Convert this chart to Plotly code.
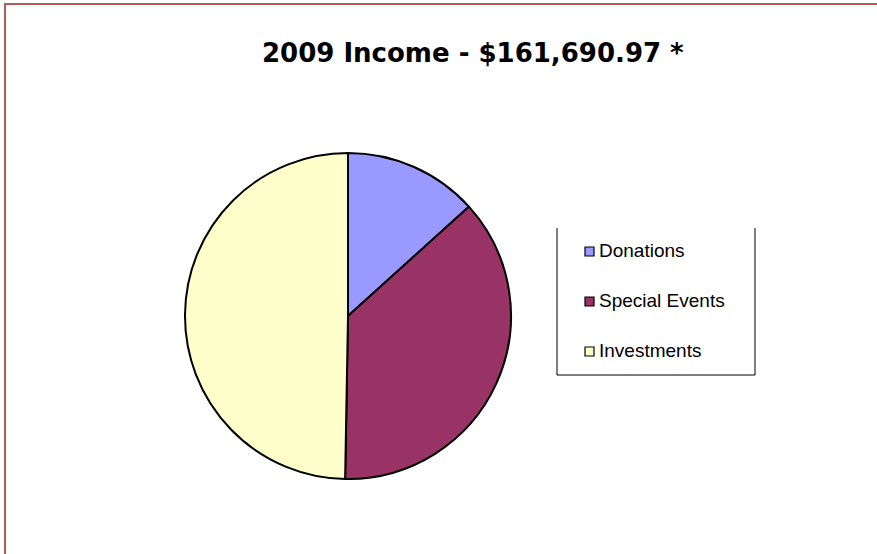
import plotly.graph_objects as go

labels = ["Donations", "Special Events", "Investments"]
values = [21500, 59800, 80391]
colors = ["#9999FF", "#993366", "#FFFFCC"]
title_text = "2009 Income - $161,690.97 *"

W, H = 877, 554
cx, cy, r = 348, 316, 163

fig = go.Figure()
fig.add_trace(go.Pie(
    labels=labels, values=values, sort=False, direction="clockwise", rotation=0,
    marker=dict(colors=colors, line=dict(color="black", width=2)),
    textinfo="none", hoverinfo="label+value+percent", showlegend=False,
    domain=dict(x=[(cx - r) / W, (cx + r) / W], y=[1 - (cy + r) / H, 1 - (cy - r) / H]),
))

shapes = []
annotations = []
# outer border
shapes.append(dict(type="rect", xref="paper", yref="paper",
                   x0=5 / W, x1=1.02, y0=-0.02, y1=1 - 4 / H,
                   line=dict(color="#B45A5A", width=2), fillcolor="rgba(0,0,0,0)"))
# legend box (no top edge)
lx0, lx1, ly0, ly1 = 557, 755, 228, 375
for (xa, ya, xb, yb) in [(lx0, ly0, lx0, ly1), (lx0, ly1, lx1, ly1), (lx1, ly1, lx1, ly0)]:
    shapes.append(dict(type="line", xref="paper", yref="paper",
                       x0=xa / W, y0=1 - ya / H, x1=xb / W, y1=1 - yb / H,
                       line=dict(color="black", width=1)))
for i, (lab, col) in enumerate(zip(labels, colors)):
    yy = 251.5 + 50 * i
    shapes.append(dict(type="rect", xref="paper", yref="paper",
                       x0=585 / W, x1=594 / W, y0=1 - (yy + 4.5) / H, y1=1 - (yy - 4.5) / H,
                       fillcolor=col, line=dict(color="black", width=1.2)))
    annotations.append(dict(text=lab, xref="paper", yref="paper", x=597 / W, y=1 - (yy - 1) / H,
                            xanchor="left", yanchor="middle", showarrow=False,
                            font=dict(family="Liberation Sans, Arial", size=19, color="black")))

annotations.append(dict(text="<b>" + title_text + "</b>", xref="paper", yref="paper",
                        x=473 / W, y=1 - 53 / H, xanchor="center", yanchor="middle", showarrow=False,
                        font=dict(family="DejaVu Sans, Verdana", size=26, color="black")))

fig.update_layout(width=W, height=H, autosize=False, margin=dict(l=0, r=0, t=0, b=0),
                  paper_bgcolor="white", plot_bgcolor="white",
                  shapes=shapes, annotations=annotations)
fig.write_html("out.html", config={"displayModeBar": False},
               post_script="document.body.style.margin='0px';")
